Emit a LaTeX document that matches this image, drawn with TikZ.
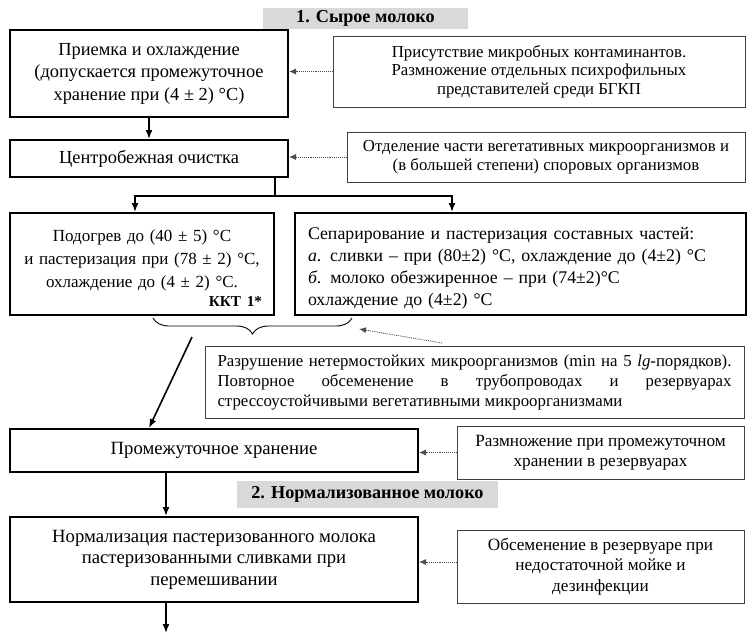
\documentclass[tikz,border=0pt]{standalone}
\usepackage{fontspec}
\setmainfont{Liberation Serif}
\usetikzlibrary{arrows.meta,decorations.pathreplacing}
\begin{document}
\begin{tikzpicture}[x=1pt,y=-1pt,
  mainbox/.style={draw=black,line width=2pt,inner sep=0pt,align=center,font=\fontsize{18.4}{22.5}\selectfont},
  boxtext/.style={inner sep=0pt},
  notebox/.style={draw=black!75,line width=0.9pt,inner sep=0pt,align=center,font=\fontsize{16.8}{20}\selectfont},
  titlebox/.style={fill=black!15,inner sep=0pt,font=\fontsize{18.2}{20}\selectfont\bfseries},
  arr/.style={line width=1.6pt,-{Latex[length=9pt,width=7pt]}},
  line/.style={line width=1.6pt},
  dotarr/.style={densely dotted,line width=0.9pt,draw=black!70,-{Latex[length=7pt,width=6pt]}}]
\useasboundingbox (0,0) rectangle (755,638);
% titles
\node[titlebox,minimum width=205pt,minimum height=21pt] (t1) at (365.5,18.5) {1. Сырое молоко};
\node[titlebox,minimum width=261pt,minimum height=27pt] (t2) at (367.5,494.5) {2. Нормализованное молоко};
% main boxes
\node[mainbox,minimum width=278pt,minimum height=87pt] (b1) at (149,73.5)
  {Приемка и охлаждение\\(допускается промежуточное\\хранение при (4 ± 2) °С)};
\node[mainbox,minimum width=278pt,minimum height=37pt] (b2) at (149,158.5) {Центробежная очистка};
\node[mainbox,minimum width=264pt,minimum height=102pt] (b3) at (142,264) {};
\node[boxtext,text width=240pt,align=center,font=\fontsize{17}{23}\selectfont] (b3t) at (142,268)
  {Подогрев до (40 ± 5) °С\\и пастеризация при (78 ± 2) °С,\\охлаждение до (4 ± 2) °С.\\[-4pt]
   \hfill{\fontsize{15.2}{16}\selectfont\bfseries ККТ 1*}\hspace*{11pt}};
\node[mainbox,minimum width=451pt,minimum height=102pt] (b4) at (520.5,264) {};
\node[boxtext,text width=425pt,align=left,font=\fontsize{17.8}{22}\selectfont] (b4t) at (520.5,268)
  {Сепарирование и пастеризация составных частей:\\
   \textit{а}. сливки – при (80±2) °С, охлаждение до (4±2) °С\\
   \textit{б}. молоко обезжиренное – при (74±2)°С\\
   охлаждение до (4±2) °С};
\node[mainbox,minimum width=408pt,minimum height=43pt,font=\fontsize{18.7}{21.5}\selectfont] (b6) at (214,450.5) {Промежуточное хранение};
\node[mainbox,minimum width=408pt,minimum height=85pt,font=\fontsize{18.7}{21.5}\selectfont] (b7) at (214,559.5)
  {Нормализация пастеризованного молока\\пастеризованными сливками при\\перемешивании};
% note boxes
\node[notebox,minimum width=412pt,minimum height=71pt,font=\fontsize{16.8}{18.5}\selectfont] (r1) at (539,71.5)
  {Присутствие микробных контаминантов.\\Размножение отдельных психрофильных\\представителей среди БГКП};
\node[notebox,minimum width=398pt,minimum height=50pt,font=\fontsize{16.8}{19}\selectfont] (r2) at (546,157)
  {Отделение части вегетативных микроорганизмов и\\(в большей степени) споровых организмов};
\node[notebox,minimum width=539pt,minimum height=72pt,text width=514pt,align=justify] (r5) at (474.5,382.5)
  {Разрушение нетермостойких микроорганизмов (min на 5 \textit{lg}-порядков).\linebreak
   Повторное обсеменение в трубопроводах и резервуарах\linebreak
   стрессоустойчивыми вегетативными микроорганизмами};
\node[notebox,minimum width=287pt,minimum height=53pt,font=\fontsize{17.2}{20}\selectfont] (r6) at (600.5,452.5)
  {Размножение при промежуточном\\хранении в резервуарах};
\node[notebox,minimum width=287pt,minimum height=73pt,font=\fontsize{17.2}{20.5}\selectfont] (r7) at (600.5,566.5)
  {Обсеменение в резервуаре при\\недостаточной мойке и\\дезинфекции};
% helper coordinates
\coordinate (split) at (275,196);
\coordinate (xl) at (135,0);
\coordinate (xr) at (452,0);
\coordinate (xm) at (166,0);
\coordinate (xd) at (149,0);
\coordinate (braceR) at (352,318);
\coordinate (braceL) at (153,318);
\coordinate (bt) at (359,329);
\coordinate (bs) at (442,343);
\coordinate (dstart) at (192,337);
\coordinate (yr7) at (0,562);
\coordinate (fin) at (166,633);
% main flow
\draw[arr] (b1.south) -- (b2.north);
\draw[line] (b2.south -| split) -- (split);
\draw[arr] (split) -| (b3.north -| xl);
\draw[arr] (split) -| (b4.north -| xr);
\draw[line width=0.9pt,decorate,decoration={brace,amplitude=16pt}] (braceR) -- (braceL);
\draw[arr] (dstart) -- (b6.north -| xd);
\draw[arr] (b6.south -| xm) -- (b7.north -| xm);
\draw[arr] (b7.south -| xm) -- (fin);
% dotted notes
\draw[dotarr] (r1.west) -- (r1.west -| b1.east);
\draw[dotarr] (r2.west) -- (r2.west -| b2.east);
\draw[dotarr] (bs) -- (bt);
\draw[dotarr] (r6.west) -- (r6.west -| b6.east);
\draw[dotarr] (r7.west |- yr7) -- (b7.east |- yr7);
\end{tikzpicture}
\end{document}
